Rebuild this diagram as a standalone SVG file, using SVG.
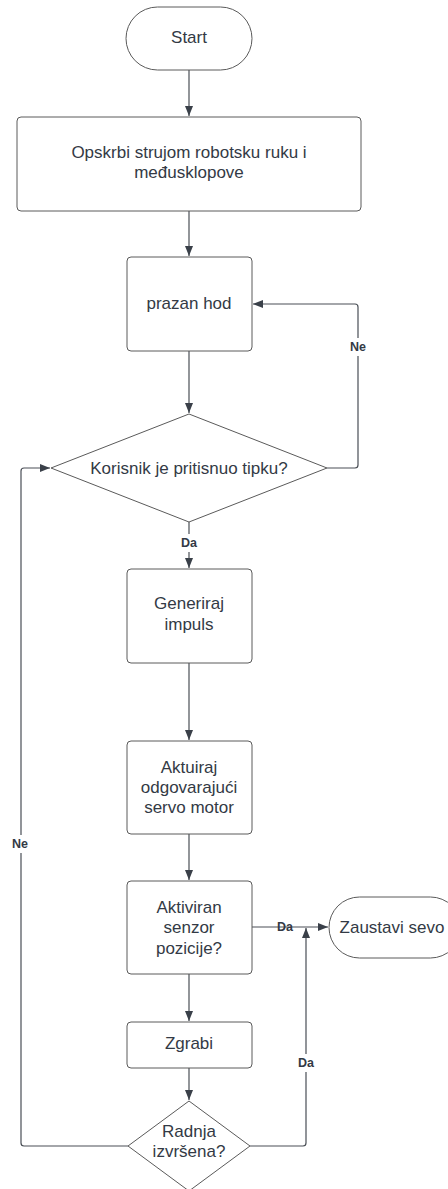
<svg xmlns="http://www.w3.org/2000/svg" width="448" height="1189" viewBox="0 0 448 1189">
<style>
.s{fill:#fff;stroke:#5a5a5a;stroke-width:1}
.t{font-family:"Liberation Sans",Arial,sans-serif;font-size:17px;fill:#333a45;text-anchor:middle;dominant-baseline:central}
.l{font-family:"Liberation Sans",Arial,sans-serif;font-size:12.5px;font-weight:bold;fill:#333a45;text-anchor:middle;dominant-baseline:central}
.c{fill:none;stroke:#4a4f56;stroke-width:1.2}
</style>
<defs>
<marker id="a" viewBox="0 0 10 10" refX="10" refY="5" markerWidth="10" markerHeight="10" markerUnits="userSpaceOnUse" orient="auto">
<path d="M0,1 L10,5 L0,9 z" fill="#3a4049"/>
</marker>
</defs>
<rect width="448" height="1189" fill="#fff"/>
<g id="connectors">
<path class="c" d="M189,70 V116" marker-end="url(#a)"/>
<path class="c" d="M189,211 V256" marker-end="url(#a)"/>
<path class="c" d="M189,351 V413" marker-end="url(#a)"/>
<path class="c" d="M327,468 H355 Q358,468 358,465 V307 Q358,304 355,304 H253" marker-end="url(#a)"/>
<path class="c" d="M189,522 V568" marker-end="url(#a)"/>
<path class="c" d="M189,663 V740" marker-end="url(#a)"/>
<path class="c" d="M189,834 V880" marker-end="url(#a)"/>
<path class="c" d="M252,927 H328" marker-end="url(#a)"/>
<path class="c" d="M189,974 V1021" marker-end="url(#a)"/>
<path class="c" d="M189,1068 V1100" marker-end="url(#a)"/>
<path class="c" d="M250,1146 H303 Q306,1146 306,1143 V928" marker-end="url(#a)"/>
<path class="c" d="M128,1146 H24 Q21,1146 21,1143 V471 Q21,468 24,468 H50" marker-end="url(#a)"/>
<rect x="348" y="338" width="20" height="18" fill="#fff"/>
<text class="l" x="358" y="347">Ne</text>
<rect x="10" y="835" width="22" height="18" fill="#fff"/>
<text class="l" x="20" y="844">Ne</text>
<rect x="176" y="534" width="26" height="18" fill="#fff"/>
<text class="l" x="189" y="543">Da</text>
<text class="l" x="285" y="927">Da</text>
<rect x="296" y="1054" width="20" height="18" fill="#fff"/>
<text class="l" x="306" y="1063">Da</text>
</g>
<g id="start">
<rect class="s" x="126" y="7" width="126" height="63" rx="31.5"/>
<text class="t" x="189" y="37">Start</text>
</g>
<g id="power">
<rect class="s" x="17" y="117" width="344" height="94" rx="4"/>
<text class="t" x="189" y="152">Opskrbi strujom robotsku ruku i</text>
<text class="t" x="189" y="172">međusklopove</text>
</g>
<g id="idle">
<rect class="s" x="127" y="257" width="125" height="94" rx="4"/>
<text class="t" x="189" y="303">prazan hod</text>
</g>
<g id="button">
<polygon class="s" points="189,414 327,468 189,522 51,468"/>
<text class="t" x="189" y="468">Korisnik je pritisnuo tipku?</text>
</g>
<g id="pulse">
<rect class="s" x="127" y="569" width="125" height="94" rx="4"/>
<text class="t" x="189" y="603">Generiraj</text>
<text class="t" x="189" y="624">impuls</text>
</g>
<g id="servo">
<rect class="s" x="127" y="741" width="125" height="93" rx="4"/>
<text class="t" x="189" y="767">Aktuiraj</text>
<text class="t" x="189" y="787">odgovarajući</text>
<text class="t" x="189" y="807">servo motor</text>
</g>
<g id="sensor">
<rect class="s" x="127" y="881" width="125" height="93" rx="4"/>
<text class="t" x="189" y="907">Aktiviran</text>
<text class="t" x="189" y="927">senzor</text>
<text class="t" x="189" y="948">pozicije?</text>
</g>
<g id="stop">
<rect class="s" x="329" y="897" width="132" height="61" rx="30.5"/>
<text class="t" x="392" y="927">Zaustavi sevo</text>
</g>
<g id="grab">
<rect class="s" x="127" y="1022" width="125" height="46" rx="4"/>
<text class="t" x="189" y="1043">Zgrabi</text>
</g>
<g id="done">
<polygon class="s" points="189,1101 250,1146 189,1191 128,1146"/>
<text class="t" x="189" y="1131">Radnja</text>
<text class="t" x="189" y="1151">izvršena?</text>
</g>
</svg>
